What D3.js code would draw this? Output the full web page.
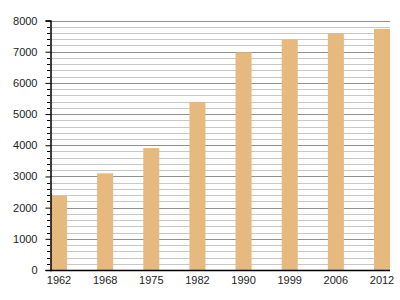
<!DOCTYPE html>
<html>
<head>
<meta charset="utf-8">
<script src="https://cdn.jsdelivr.net/npm/d3@7"></script>
<style>
    body { margin: 0; background: #fff; }
    text { font-family: "Liberation Sans", Arial, sans-serif; font-size: 11px; fill: #222; }
</style>
</head>
<body>
<div id="svg-area"></div>
<script>
// population by census year
var years = ["1962", "1968", "1975", "1982", "1990", "1999", "2006", "2012"];
var population = [2380, 3100, 3910, 5390, 6980, 7385, 7590, 7730];
var yTicks = [0, 1000, 2000, 3000, 4000, 5000, 6000, 7000, 8000];

var svgWidth = 400;
var svgHeight = 300;

var margin = { top: 20.5, right: 10, bottom: 30, left: 50 };

var svg = d3.select("#svg-area")
    .append("svg")
    .attr("width", svgWidth)
    .attr("height", svgHeight)
;

var plotRight = 390;
var plotBottom = 270;

var xScale = d3.scaleBand()
    .domain(years)
    .range([51, plotRight])
    .paddingInner(0.653)
    .paddingOuter(0)
;

var yScale = d3.scaleLinear()
    .domain([0, 8000])
    .range([plotBottom, margin.top])
;

// minor grid lines every 200
var minorTicks = d3.range(200, 8000, 200).filter(d => d % 1000 != 0);

svg.append("g")
    .selectAll("line")
    .data(minorTicks)
    .enter()
    .append("line")
    .attr("x1", margin.left)
    .attr("x2", plotRight)
    .attr("y1", d => Math.round(yScale(d)) + 0.5)
    .attr("y2", d => Math.round(yScale(d)) + 0.5)
    .attr("stroke", "#c8c8c8")
    .attr("stroke-width", 1)
;

// major grid lines
svg.append("g")
    .selectAll("line")
    .data(yTicks.slice(1))
    .enter()
    .append("line")
    .attr("x1", margin.left)
    .attr("x2", plotRight)
    .attr("y1", d => Math.round(yScale(d)) + 0.5)
    .attr("y2", d => Math.round(yScale(d)) + 0.5)
    .attr("stroke", "#909090")
    .attr("stroke-width", 1)
;

// bars
svg.append("g")
    .selectAll("rect")
    .data(population)
    .enter()
    .append("rect")
    .attr("x", (d, i) => xScale(years[i]))
    .attr("y", d => yScale(d))
    .attr("width", xScale.bandwidth())
    .attr("height", d => plotBottom - yScale(d))
    .attr("fill", "#e6b97e")
;

// minor ticks on the y axis
svg.append("g")
    .selectAll("line")
    .data(minorTicks)
    .enter()
    .append("line")
    .attr("x1", margin.left - 3)
    .attr("x2", margin.left)
    .attr("y1", d => Math.round(yScale(d)) + 0.5)
    .attr("y2", d => Math.round(yScale(d)) + 0.5)
    .attr("stroke", "#000")
;

// y axis
var yAxis = svg.append("g")
    .attr("transform", `translate(${margin.left + 0.5}, 0)`)
    .call(d3.axisLeft(yScale).tickValues(yTicks).tickSize(5).tickPadding(8).tickFormat(d3.format("d")))
;
yAxis.select(".domain").attr("stroke", "#000").attr("stroke-width", 1.5);
yAxis.selectAll("text").style("font-size", "11px").attr("fill", "#222");

// x axis
var xAxis = svg.append("g")
    .attr("transform", `translate(0, ${plotBottom + 0.5})`)
    .call(d3.axisBottom(xScale).tickSize(0).tickPadding(6))
;
xAxis.select(".domain").attr("d", `M${margin.left},0H${plotRight}`).attr("stroke", "#000").attr("stroke-width", 1.5);
xAxis.selectAll("text").style("font-size", "11px").attr("fill", "#222");
</script>
</body>
</html>
